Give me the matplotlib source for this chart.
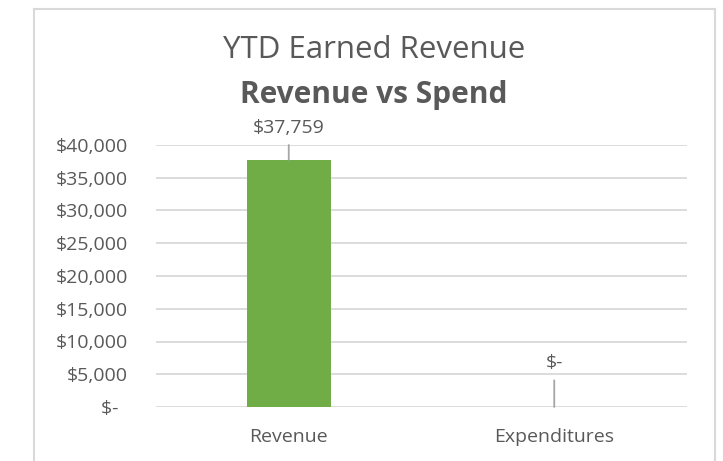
import matplotlib.pyplot as plt
from matplotlib.lines import Line2D
from matplotlib.ticker import FuncFormatter

categories = ["Revenue", "Expenditures"]
values = [37759, 0]
label_offsets = [32, 44]  # pixels above the bar top

plt.rcParams['font.family'] = ['Open Sans', 'DejaVu Sans']
text_col = "#595959"

fig = plt.figure(figsize=(7.23, 4.61), dpi=100)
ax = fig.add_axes([156 / 723, 1 - 407 / 461, (687 - 156) / 723, (407 - 145) / 461])

x = range(len(categories))
ax.bar(x, values, width=0.316, color="#70AD47", zorder=3)

ax.set_xlim(-0.5, 1.5)
ax.set_ylim(0, 40000)
ax.set_yticks(range(0, 40001, 5000))
ax.yaxis.set_major_formatter(FuncFormatter(
    lambda v, p: "$-  " if v == 0 else "${:,.0f}".format(v)))
ax.set_xticks(list(x))
ax.set_xticklabels(categories)

ax.grid(axis="y", color="#D9D9D9", linewidth=1.3, zorder=0)
for s in ax.spines.values():
    s.set_visible(False)
ax.tick_params(axis="both", length=0, colors=text_col)
ax.tick_params(axis="y", pad=20, labelsize=14)
ax.tick_params(axis="x", pad=15, labelsize=14)

for i, v in enumerate(values):
    lbl = "$-" if v == 0 else "${:,.0f}".format(v)
    ax.annotate(lbl, xy=(i, v), xytext=(0, label_offsets[i]),
                textcoords="offset pixels", ha="center", va="center",
                fontsize=14, color=text_col,
                arrowprops=dict(arrowstyle="-", color="#A6A6A6", lw=1.3,
                                shrinkA=4, shrinkB=0))

fig.text(0.517, 1 - 50 / 461, "YTD Earned Revenue", ha="center", va="center",
         fontsize=22.5, color=text_col)
fig.text(0.517, 1 - 95 / 461, "Revenue vs Spend", ha="center", va="center",
         fontsize=21.5, fontweight="bold", color=text_col)

# chart area border
bc = "#D9D9D9"
xl, xr, yt = 34 / 723, 715 / 723, 1 - 9 / 461
fig.add_artist(Line2D([xl, xl], [0, yt], color=bc, lw=1.5))
fig.add_artist(Line2D([xl, xr], [yt, yt], color=bc, lw=1.5))
fig.add_artist(Line2D([xr, xr], [0, yt], color=bc, lw=1.5))

fig.savefig("out.png", dpi=100, facecolor="white")
